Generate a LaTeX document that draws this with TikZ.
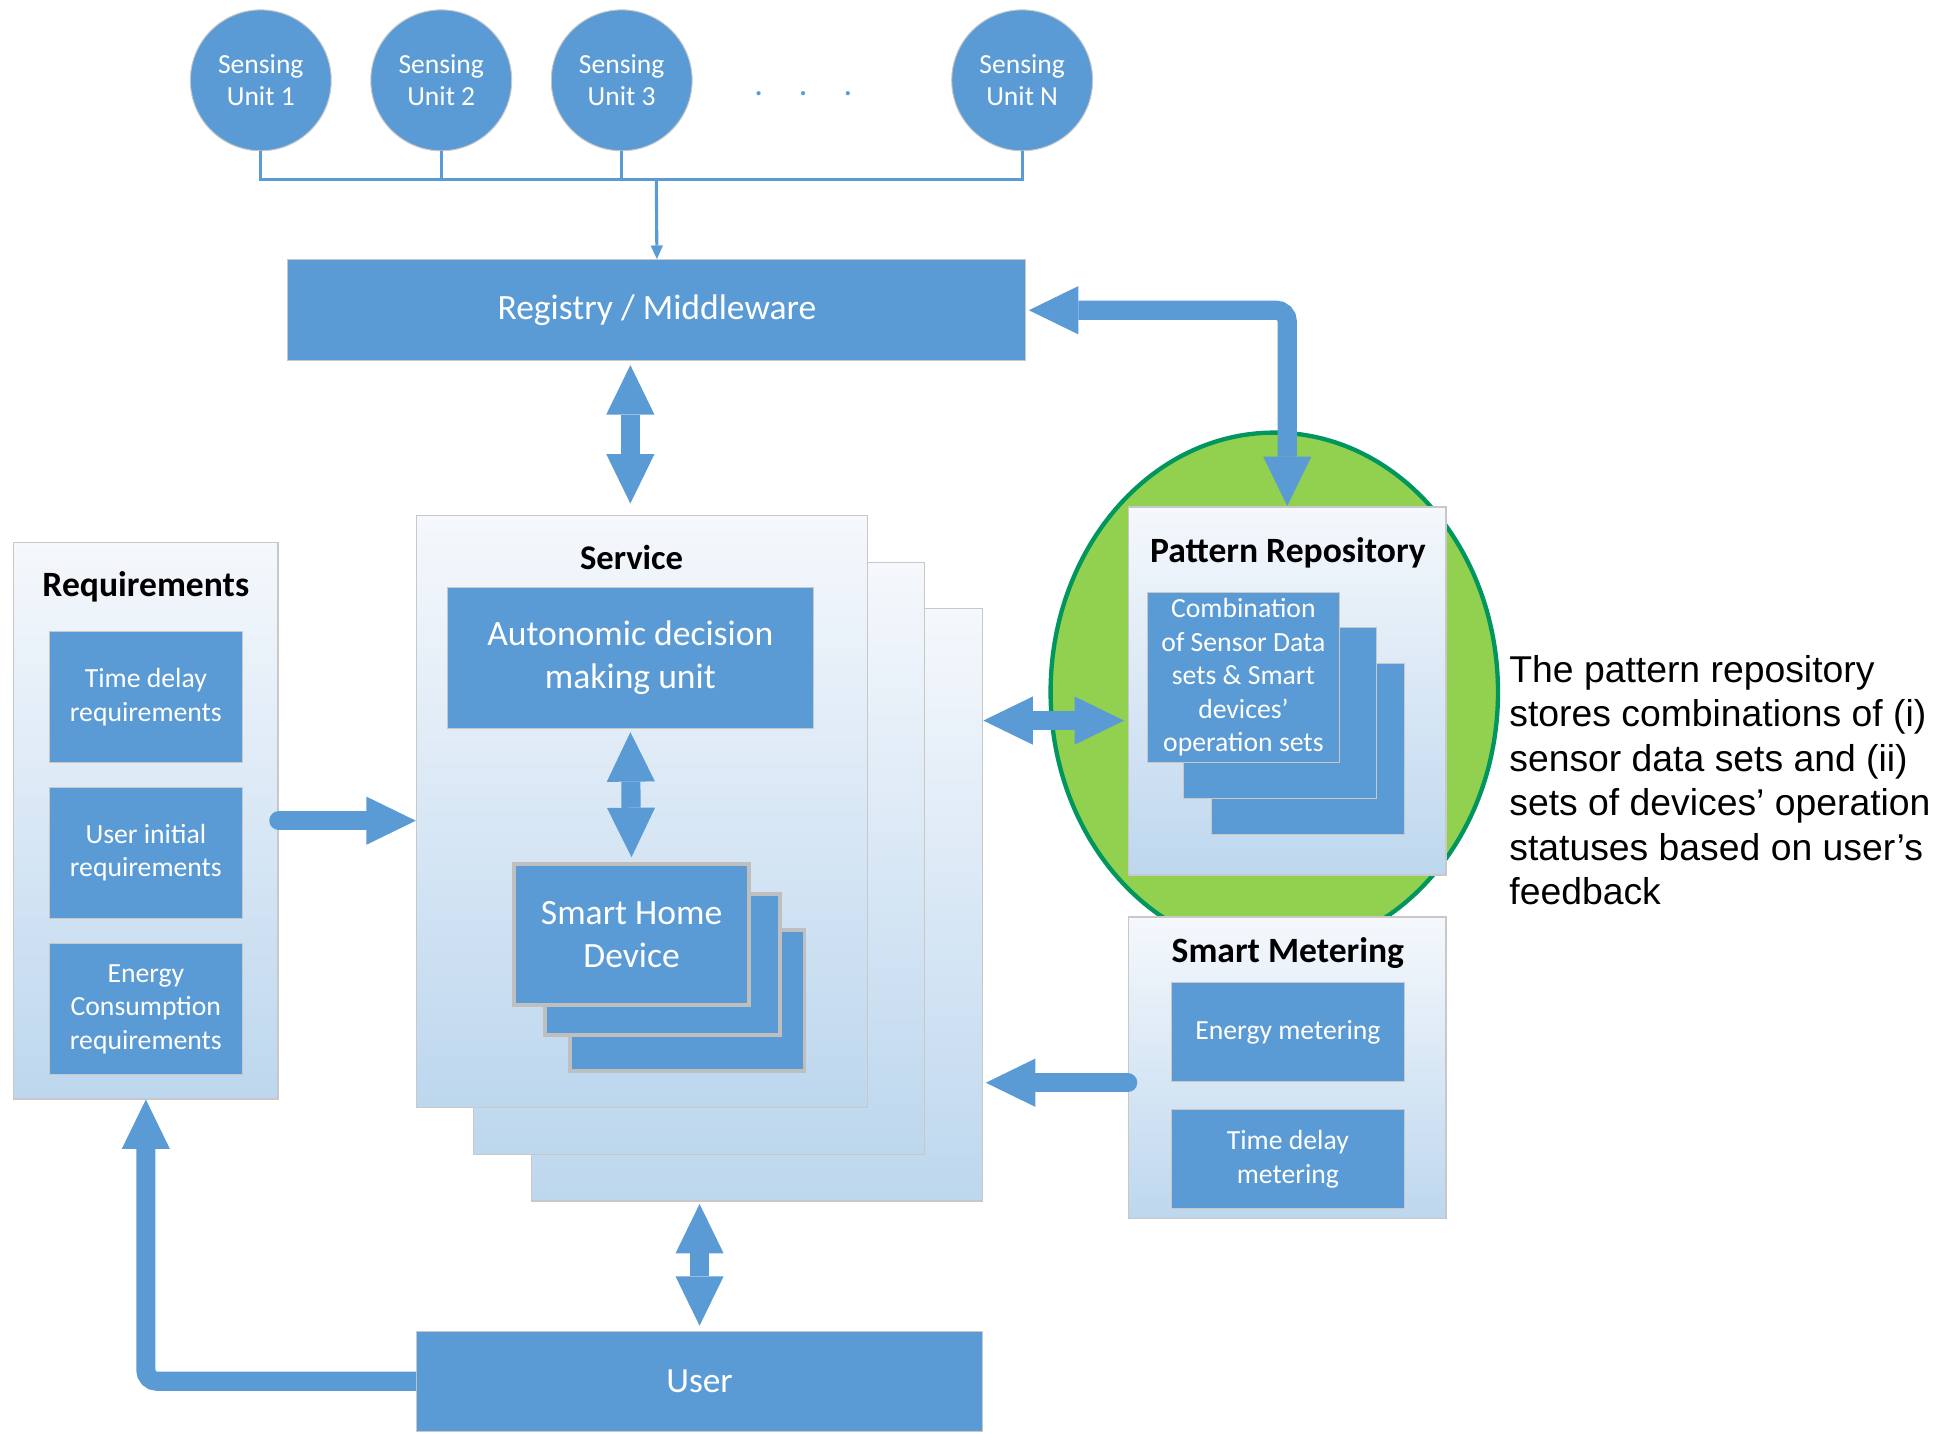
\documentclass[tikz,border=0pt]{standalone}
\usepackage{fontspec}
\setmainfont{Carlito}
\newfontfamily\noteFont{Liberation Sans}
\usetikzlibrary{arrows.meta,shapes.geometric}
\definecolor{boxBlue}{HTML}{5B9BD5}
\definecolor{boxEdge}{HTML}{C8C8C8}
\definecolor{deviceEdge}{HTML}{BFBFBF}
\definecolor{paleTop}{HTML}{F5F8FC}
\definecolor{paleBottom}{HTML}{BDD7EE}
\definecolor{ovalGreen}{HTML}{92D050}
\definecolor{ovalEdge}{HTML}{00965E}

\begin{document}
\begin{tikzpicture}
[x=1pt,y=-1pt,
  every node/.style={inner sep=0pt,align=center},
  blueBox/.style={fill=boxBlue,draw=boxEdge,line width=0.8pt,text=white,
    font=\fontsize{22.4}{27}\selectfont},
  paleBox/.style={top color=paleTop,bottom color=paleBottom,draw=boxEdge,line width=1.2pt},
  unitCircle/.style={circle,fill=boxBlue,draw=boxEdge,line width=0.8pt,text=white,
    minimum size=114pt,font=\fontsize{22.3}{26}\selectfont},
  titleText/.style={font=\fontsize{28.8}{32}\selectfont\bfseries},
  busLine/.style={boxBlue,line width=2.5pt},
  fatArrow/.style={boxBlue,line width=15.5pt,
    -{Triangle[width=39pt,length=40pt,line width=0pt]}},
  fatBoth/.style={boxBlue,line width=15.5pt,
    {Triangle[width=39pt,length=40pt,line width=0pt]}-{Triangle[width=39pt,length=40pt,line width=0pt]}}]
\useasboundingbox (0,0) rectangle (1568,1160);

\foreach \n/\cx in {1/211,2/357,3/503,N/827}
  \node[unitCircle] (unit\n) at (\cx,65) {Sensing\\Unit \n};
\node[text=boxBlue,font=\fontsize{28}{32}\selectfont] (moreUnits) at (650,76)
  {.\hspace{29pt}.\hspace{29pt}.};
\coordinate (busMid) at (531,145);

\node[blueBox,minimum width=597pt,minimum height=82pt,font=\fontsize{28.8}{34}\selectfont]
  (reg) at (531.5,251) {Registry / Middleware};

\foreach \n/\cx/\cy in {3/612.5/732,2/565.5/694.5,1/519.5/656.5}
  \node[paleBox,minimum width=365pt,minimum height=479pt] (svc\n) at (\cx,\cy) {};
\node[titleText,font=\fontsize{28}{32}\selectfont\bfseries] (svcTitle) at (511,451) {Service};
\node[blueBox,minimum width=296pt,minimum height=114pt,font=\fontsize{28.8}{35}\selectfont]
  (adm) at (510,532) {Autonomic decision\\making unit};
\foreach \n/\cx/\cy in {3/556/809.5,2/536/780.5}
  \node[blueBox,draw=deviceEdge,line width=3pt,minimum width=190pt,minimum height=114pt]
    (shd\n) at (\cx,\cy) {};
\node[blueBox,draw=deviceEdge,line width=3pt,minimum width=190pt,minimum height=114pt,
  font=\fontsize{28.8}{35}\selectfont] (shd1) at (511,756) {Smart Home\\Device};

\node[paleBox,minimum width=214pt,minimum height=450pt] (req) at (118,664) {};
\node[titleText] (reqTitle) at (118,475) {Requirements};
\foreach \n/\cy/\txt in {A/564/{Time delay\\requirements},B/690/{User initial\\requirements},
  C/816.5/{Energy\\Consumption\\requirements}}
  \node[blueBox,minimum width=156pt,minimum height=106pt] (req\n) at (118,\cy) {\txt};

\node[ellipse,fill=ovalGreen,draw=ovalEdge,line width=3.5pt,minimum width=362pt,
  minimum height=420pt] (repoOval) at (1031,560) {};
\node[paleBox,minimum width=257pt,minimum height=298pt] (pat) at (1041.5,559) {};
\node[titleText] (patTitle) at (1042,447) {Pattern Repository};
\foreach \n/\cx/\cy in {3/1058/606,2/1035.5/577}
  \node[blueBox,minimum width=156pt,minimum height=138pt] (pat\n) at (\cx,\cy) {};
\node[blueBox,minimum width=156pt,minimum height=138pt] (pat1) at (1006,548)
  {Combination\\of Sensor Data\\sets \& Smart\\devices’\\operation sets};

\node[paleBox,minimum width=257pt,minimum height=244pt] (met) at (1041.5,864) {};
\node[titleText] (metTitle) at (1042,771) {Smart Metering};
\node[blueBox,minimum width=188pt,minimum height=80pt] (metA) at (1042,835) {Energy metering};
\node[blueBox,minimum width=188pt,minimum height=80pt] (metB) at (1042,938) {Time delay\\metering};

\node[blueBox,minimum width=458pt,minimum height=81pt,font=\fontsize{28.6}{34}\selectfont]
  (user) at (566,1117.5) {User};

\node[anchor=north west,align=left,font=\noteFont\fontsize{30.2}{36}\selectfont] (note)
  at (1221,530) {The pattern repository\\stores combinations of (i)\\sensor data sets and (ii)\\%
  sets of devices’ operation\\statuses based on user’s\\feedback};

\draw[busLine] (unit1.south) |- (unitN.south |- busMid) -- (unitN.south);
\foreach \n in {2,3}
  \draw[busLine] (unit\n.south) -- (unit\n.south |- busMid);
\draw[busLine,-{Triangle[width=10pt,length=11pt,line width=0pt]}] (busMid) -- (reg.north);

\draw[fatBoth,shorten <=3pt,shorten >=9pt] (adm.north |- reg.south) -- (adm.north |- svc1.north);
\draw[fatBoth,shorten <=3pt,shorten >=4pt] (adm.south) -- (shd1.north);
\draw[fatArrow,line cap=round] (req.east) -- (svc1.west |- req.east);
\draw[fatBoth,shorten <=3pt] ([yshift=-24pt]pat.west) -- ([yshift=-24pt]pat.west -| svc3.east);
\draw[fatArrow,line cap=round,shorten >=2pt] ([yshift=-12pt]met.west) -- ([yshift=-12pt]met.west -| svc3.east);
\draw[fatBoth,shorten <=4pt,shorten >=2pt] (user.north) -- (user.north |- svc3.south);
\draw[fatArrow,rounded corners=9pt] (user.west) -| (req.south);
\draw[fatBoth,rounded corners=9pt,shorten <=2pt] (reg.east) -| (pat.north);
\end{tikzpicture}
\end{document}
